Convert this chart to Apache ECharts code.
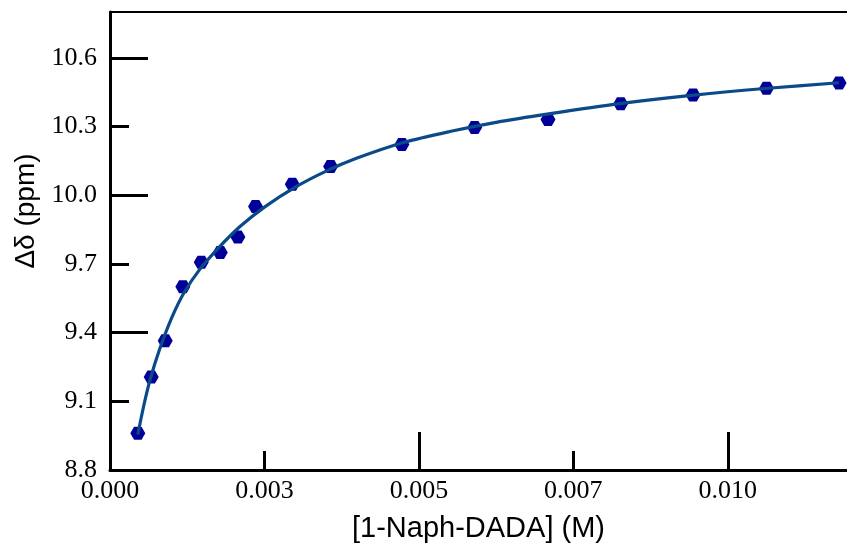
<!DOCTYPE html>
<html><head><meta charset="utf-8">
<script src="https://cdn.jsdelivr.net/npm/echarts@6/dist/echarts.min.js"></script>
<style>html,body{margin:0;padding:0;background:#fff}#c{width:847px;height:548px}</style>
</head><body><div id="c"></div>
<script>
// measured points: concentration (M) and chemical shift change (ppm)
const concX = [0.000450,0.000667,0.000894,0.001179,0.001477,0.001785,0.002070,0.002356,0.002951,0.003571,0.004725,0.005903,0.007090,0.008267,0.009438,0.010627,0.011802];
const shiftY = [8.961,9.206,9.364,9.600,9.707,9.750,9.818,9.951,10.048,10.125,10.221,10.296,10.331,10.399,10.438,10.467,10.490];
// fitted curve
const fitX = [0.00045,0.00055,0.00065,0.00080,0.00100,0.00120,0.00145,0.00175,0.00210,0.00250,0.00300,0.00350,0.00400,0.00475,0.00550,0.00625,0.00710,0.00825,0.00945,0.01065,0.01180];
const fitY = [8.955,9.085,9.195,9.325,9.465,9.575,9.675,9.768,9.862,9.948,10.035,10.105,10.162,10.230,10.278,10.318,10.355,10.400,10.437,10.467,10.491];
// ticks
const xTickVals = [0,0.0025,0.005,0.0075,0.01];
const xTickLabels = ['0.000','0.003','0.005','0.007','0.010'];
const xMajorVals = [0,0.005,0.01];
const yTickVals = [8.8,9.1,9.4,9.7,10.0,10.3,10.6];
const yTickLabels = ['8.8','9.1','9.4','9.7','10.0','10.3','10.6'];
const yMajorVals = [8.8,9.4,10.0,10.6];

const chart = echarts.init(document.getElementById('c'), null, {renderer:'canvas'});
const lineBlack = {show:true, lineStyle:{color:'#000', width:3}};
const serif = '"Liberation Serif","Times New Roman",serif';
const sans = '"Liberation Sans",Arial,sans-serif';
const xMin = 0, xMax = 0.01193, yMin = 8.8, yMax = 10.8;
const hex = 'path://M0,5 L3,0 L9,0 L12,5 L9,10 L3,10 Z';
chart.setOption({
  animation:false,
  grid:{left:110, right:0, top:12, bottom:71, containLabel:false},
  xAxis:[
    {type:'value', position:'bottom', min:xMin, max:xMax,
     axisLine:lineBlack,
     axisTick:{show:true, inside:true, length:19, lineStyle:{color:'#000', width:3}, customValues:xTickVals},
     axisLabel:{show:true, margin:8, fontFamily:serif, fontSize:26, color:'#000', customValues:xTickVals,
       formatter:(v)=>{const i=xTickVals.findIndex(t=>Math.abs(t-v)<1e-9);return i>=0?xTickLabels[i]:'';}},
     splitLine:{show:false},
     name:'[1-Naph-DADA] (M)', nameLocation:'middle', nameGap:44,
     nameTextStyle:{fontFamily:sans, fontSize:29, color:'#000'}},
    {type:'value', position:'bottom', min:xMin, max:xMax,
     axisLine:{show:false},
     axisTick:{show:true, inside:true, length:38, lineStyle:{color:'#000', width:3}, customValues:xMajorVals},
     axisLabel:{show:false}, splitLine:{show:false}},
    {type:'value', position:'top', min:xMin, max:xMax,
     axisLine:{show:true, lineStyle:{color:'#000', width:2}},
     axisTick:{show:false}, axisLabel:{show:false}, splitLine:{show:false}}
  ],
  yAxis:[
    {type:'value', position:'left', min:yMin, max:yMax,
     axisLine:lineBlack,
     axisTick:{show:true, inside:true, length:19, lineStyle:{color:'#000', width:3}, customValues:yTickVals},
     axisLabel:{show:true, margin:13, fontFamily:serif, fontSize:26, color:'#000', customValues:yTickVals,
       formatter:(v)=>{const i=yTickVals.findIndex(t=>Math.abs(t-v)<1e-9);return i>=0?yTickLabels[i]:'';}},
     splitLine:{show:false},
     name:'\u0394\u03b4 (ppm)', nameLocation:'middle', nameGap:68, nameRotate:90,
     nameTextStyle:{fontFamily:sans, fontSize:28, color:'#000', padding:[0,0,0,60]}},
    {type:'value', position:'left', min:yMin, max:yMax,
     axisLine:{show:false},
     axisTick:{show:true, inside:true, length:38, lineStyle:{color:'#000', width:3}, customValues:yMajorVals},
     axisLabel:{show:false}, splitLine:{show:false}}
  ],
  series:[
    {type:'scatter', xAxisIndex:0, yAxisIndex:0, symbol:hex, symbolSize:[15,13],
     itemStyle:{color:'#000099', opacity:1}, z:2,
     data:concX.map((x,i)=>[x,shiftY[i]])},
    {type:'line', xAxisIndex:0, yAxisIndex:0, showSymbol:false, symbol:'none', smooth:0.3,
     lineStyle:{color:'#0b4a88', width:3.2}, z:3,
     data:fitX.map((x,i)=>[x,fitY[i]])}
  ]
});
</script>
</body></html>
